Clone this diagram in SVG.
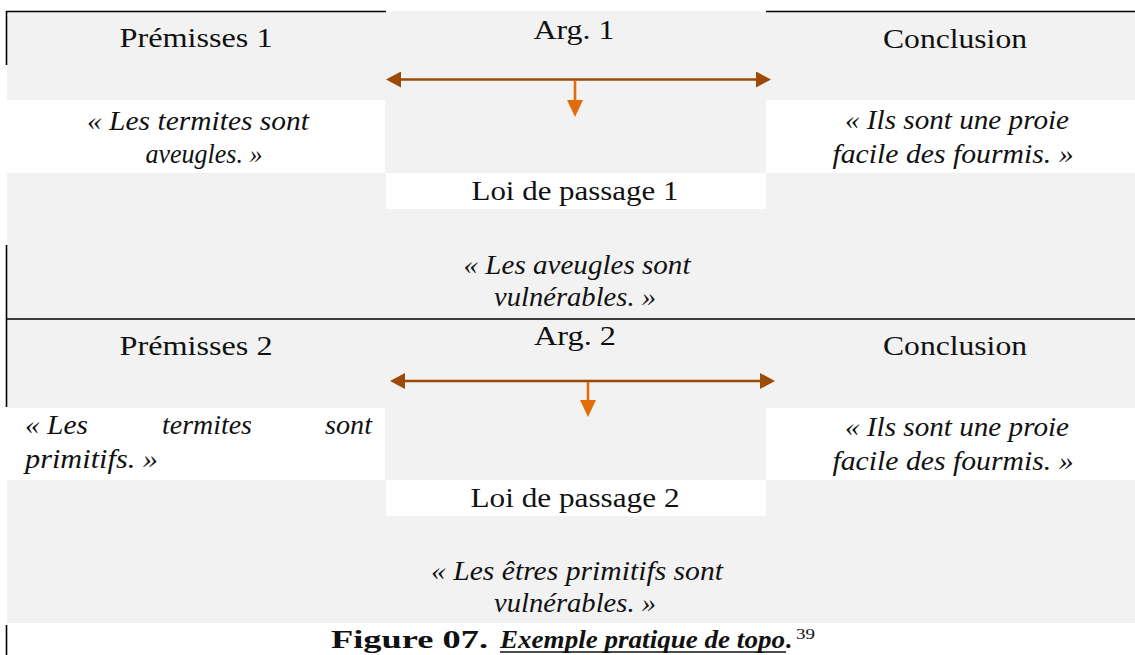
<svg xmlns="http://www.w3.org/2000/svg" width="1135" height="655" viewBox="0 0 1135 655">
  <style>
    .cell { fill: #f2f2f2; }
    .blank { fill: #ffffff; }
    .rule { stroke: #000000; stroke-width: 1.6; fill: none; }
    .t { font-family: "Liberation Serif", "Times New Roman", Tinos, Times, serif; font-size: 27px; fill: #111111; }
    .q { font-family: "Liberation Serif", "Times New Roman", Tinos, Times, serif; font-size: 27px; font-style: italic; fill: #111111; }
    .cap { font-family: "Liberation Serif", "Times New Roman", Tinos, Times, serif; font-size: 26px; font-weight: bold; fill: #111111; }
    .sup { font-family: "Liberation Serif", "Times New Roman", Tinos, Times, serif; font-size: 15px; fill: #111111; }
    .link { stroke: #9b4a08; stroke-width: 2.6; fill: none; }
    .down { stroke: #e36c0a; stroke-width: 2.6; fill: none; }
  </style>
  <defs>
    <marker id="headBrown" markerUnits="userSpaceOnUse" markerWidth="16" markerHeight="16" refX="2" refY="8" orient="auto-start-reverse">
      <path d="M0,0 L15,8 L0,16 Z" fill="#9b4a08"/>
    </marker>
    <marker id="headOrange" markerUnits="userSpaceOnUse" markerWidth="17" markerHeight="17" refX="2" refY="8" orient="auto">
      <path d="M0,0 L17,8 L0,16 Z" fill="#e36c0a"/>
    </marker>
  </defs>

  <!-- page background -->
  <rect x="0" y="0" width="1135" height="655" fill="#ffffff"/>
  <!-- shaded table body -->
  <rect class="cell" x="7" y="11" width="1128" height="612"/>

  <!-- unshaded cells, argument 1 -->
  <rect class="blank" x="7" y="100" width="378" height="73"/>
  <rect class="blank" x="766" y="100" width="369" height="73"/>
  <rect class="blank" x="386" y="173" width="380" height="36"/>
  <!-- unshaded cells, argument 2 -->
  <rect class="blank" x="7" y="408" width="378" height="72"/>
  <rect class="blank" x="766" y="408" width="369" height="72"/>
  <rect class="blank" x="386" y="480" width="380" height="36"/>

  <!-- table borders -->
  <g id="borders">
    <line class="rule" x1="6" y1="11.5" x2="386" y2="11.5"/>
    <line class="rule" x1="766" y1="11.5" x2="1135" y2="11.5"/>
    <line class="rule" x1="6.5" y1="11" x2="6.5" y2="65"/>
    <line class="rule" x1="6.5" y1="245" x2="6.5" y2="407"/>
    <line class="rule" x1="6" y1="319" x2="1135" y2="319"/>
    <line class="rule" x1="6.5" y1="625" x2="6.5" y2="655"/>
  </g>

  <!-- argument 1 -->
  <g id="premisses1">
    <text class="t" x="196" y="47" text-anchor="middle" textLength="153" lengthAdjust="spacingAndGlyphs">Prémisses 1</text>
    <text class="q" x="198" y="130" text-anchor="middle" textLength="222" lengthAdjust="spacingAndGlyphs">« Les termites sont</text>
    <text class="q" x="204" y="163" text-anchor="middle" textLength="117" lengthAdjust="spacingAndGlyphs">aveugles. »</text>
  </g>
  <g id="arg1">
    <text class="t" x="574" y="39" text-anchor="middle" textLength="81" lengthAdjust="spacingAndGlyphs">Arg. 1</text>
  </g>
  <g id="conclusion1">
    <text class="t" x="955" y="48" text-anchor="middle" textLength="144" lengthAdjust="spacingAndGlyphs">Conclusion</text>
    <text class="q" x="957" y="129" text-anchor="middle" textLength="224" lengthAdjust="spacingAndGlyphs">« Ils sont une proie</text>
    <text class="q" x="953" y="163" text-anchor="middle" textLength="241" lengthAdjust="spacingAndGlyphs">facile des fourmis. »</text>
  </g>
  <g id="loi1">
    <text class="t" x="575" y="200" text-anchor="middle" textLength="207" lengthAdjust="spacingAndGlyphs">Loi de passage 1</text>
    <text class="q" x="577" y="274" text-anchor="middle" textLength="227" lengthAdjust="spacingAndGlyphs">« Les aveugles sont</text>
    <text class="q" x="575" y="306" text-anchor="middle" textLength="162" lengthAdjust="spacingAndGlyphs">vulnérables. »</text>
  </g>

  <!-- argument 2 -->
  <g id="premisses2">
    <text class="t" x="196" y="355" text-anchor="middle" textLength="153" lengthAdjust="spacingAndGlyphs">Prémisses 2</text>
    <text class="q" x="25" y="434" textLength="63" lengthAdjust="spacingAndGlyphs">« Les</text>
    <text class="q" x="162" y="434" textLength="90" lengthAdjust="spacingAndGlyphs">termites</text>
    <text class="q" x="325" y="434" textLength="47" lengthAdjust="spacingAndGlyphs">sont</text>
    <text class="q" x="25" y="468" textLength="133" lengthAdjust="spacingAndGlyphs">primitifs. »</text>
  </g>
  <g id="arg2">
    <text class="t" x="575" y="345" text-anchor="middle" textLength="82" lengthAdjust="spacingAndGlyphs">Arg. 2</text>
  </g>
  <g id="conclusion2">
    <text class="t" x="955" y="355" text-anchor="middle" textLength="144" lengthAdjust="spacingAndGlyphs">Conclusion</text>
    <text class="q" x="957" y="436" text-anchor="middle" textLength="224" lengthAdjust="spacingAndGlyphs">« Ils sont une proie</text>
    <text class="q" x="953" y="470" text-anchor="middle" textLength="241" lengthAdjust="spacingAndGlyphs">facile des fourmis. »</text>
  </g>
  <g id="loi2">
    <text class="t" x="575" y="507" text-anchor="middle" textLength="209" lengthAdjust="spacingAndGlyphs">Loi de passage 2</text>
    <text class="q" x="577" y="580" text-anchor="middle" textLength="292" lengthAdjust="spacingAndGlyphs">« Les êtres primitifs sont</text>
    <text class="q" x="575" y="612" text-anchor="middle" textLength="162" lengthAdjust="spacingAndGlyphs">vulnérables. »</text>
  </g>

  <!-- connectors -->
  <g id="connectors">
    <line class="link" x1="399" y1="79.5" x2="758" y2="79.5" marker-start="url(#headBrown)" marker-end="url(#headBrown)"/>
    <line class="down" x1="575" y1="80" x2="575" y2="102" marker-end="url(#headOrange)"/>
    <line class="link" x1="403" y1="381" x2="762" y2="381" marker-start="url(#headBrown)" marker-end="url(#headBrown)"/>
    <line class="down" x1="588" y1="382" x2="588" y2="402" marker-end="url(#headOrange)"/>
  </g>

  <!-- caption -->
  <g id="caption">
    <text class="cap" x="331" y="648" textLength="157" lengthAdjust="spacingAndGlyphs">Figure 07.</text>
    <text class="cap" x="500" y="648" font-style="italic" textLength="285" lengthAdjust="spacingAndGlyphs">Exemple pratique de topo</text>
    <line x1="500" y1="652" x2="786" y2="652" stroke="#111111" stroke-width="1.6"/>
    <text class="cap" x="786" y="648" font-style="italic">.</text>
    <text class="sup" x="796" y="639" textLength="19" lengthAdjust="spacingAndGlyphs">39</text>
  </g>
</svg>
